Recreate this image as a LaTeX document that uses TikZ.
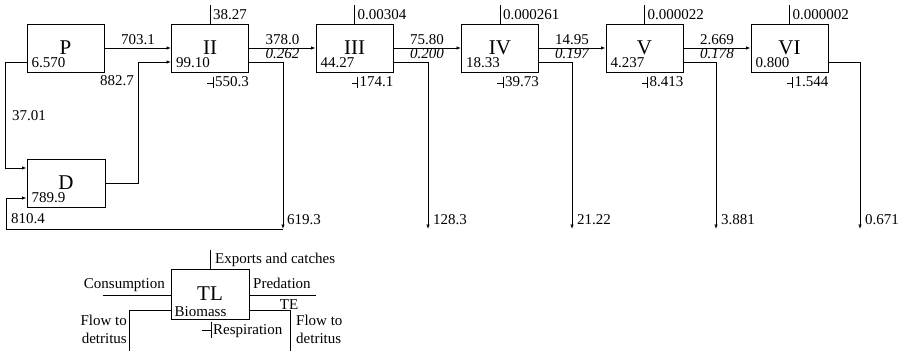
\documentclass[tikz,border=0pt]{standalone}
\usepackage{fontspec}
\setmainfont{Liberation Serif}
\usetikzlibrary{arrows.meta,calc}
\begin{document}
\begin{tikzpicture}[x=1pt,y=-1pt,
  box/.style={draw,line width=1pt,minimum width=77pt,minimum height=48pt,inner sep=0pt,font=\fontsize{21}{24}\selectfont},
  lbl/.style={inner sep=0pt,font=\fontsize{15}{18}\selectfont},
  itl/.style={inner sep=0pt,font=\fontsize{15}{18}\selectfont\itshape},
  conn/.style={line width=0.8pt},
  arr/.style={conn,-{Latex[length=4.5pt,width=3.5pt]}}]
\useasboundingbox (0,0) rectangle (904,351);
% boxes
\node[box] (P) at (65.5,48) {P};
\node[box] (II) at (210,48) {II};
\node[box] (III) at (354.5,48) {III};
\node[box] (IV) at (500,48) {IV};
\node[box] (V) at (644.5,48) {V};
\node[box] (VI) at (789.5,48) {VI};
\node[box,minimum width=78pt] (D) at (66,183) {D};
% biomass
\foreach \b/\v in {P/6.570,II/99.10,III/44.27,IV/18.33,V/4.237,VI/0.800,D/789.9}
  \node[lbl,anchor=base west] at ([xshift=5pt,yshift=5pt]\b.south west) {\v};
% exports
\foreach \b/\v in {II/38.27,III/0.00304,IV/0.000261,V/0.000022,VI/0.000002}{
  \draw[conn] (\b.north) -- ++(0,-19);
  \node[lbl,anchor=base west] at ([xshift=3pt,yshift=4pt]\b.north) {\v};
}
% respiration
\foreach \b/\v in {II/550.3,III/174.1,IV/39.73,V/8.413,VI/1.544}{
  \draw[conn] ([xshift=3pt,yshift=-4pt]\b.south) -- ++(0,11);
  \draw[conn] ([xshift=3pt,yshift=-11pt]\b.south) -- ++(-6,0);
  \node[lbl,anchor=base west] at ([xshift=5pt,yshift=-14pt]\b.south) {\v};
}
% predation flows
\draw[arr] (P) -- (II);
\draw[arr] (II) -- (III);
\draw[arr] (III) -- (IV);
\draw[arr] (IV) -- (V);
\draw[arr] (V) -- (VI);
\node[lbl,anchor=base] at (138,44) {703.1};
\foreach \x/\f/\t in {282.5/378.0/0.262,427/75.80/0.200,572/14.95/0.197,717/2.669/0.178}{
  \node[lbl,anchor=base] at (\x,44) {\f};
  \node[itl,anchor=base] at (\x,58) {\t};
}
% P to D
\draw[arr] ([yshift=-14pt]P.west) -- ++(-21,0) |- ([yshift=15pt]D.west);
\node[lbl,anchor=base west] at (12,120) {37.01};
% D to II
\draw[arr] (D.east) -| (138,62) -- ([yshift=-14pt]II.west);
\node[lbl,anchor=base east] at (134,85) {882.7};
% II to detritus
\coordinate (j) at (283,229);
\draw[arr] ([yshift=-14pt]II.east) -| (j);
\draw[arr] (j) -- (6,229) |- ([yshift=-15pt]D.west);
\node[lbl,anchor=base west] at (287,224) {619.3};
\node[lbl,anchor=base west] at (11,223) {810.4};
% other detritus flows
\foreach \b/\x/\v in {III/428/128.3,IV/572/21.22,V/716/3.881,VI/860/0.671}{
  \coordinate (e\b) at (\x,229);
  \draw[arr] ([yshift=-14pt]\b.east) -| (e\b);
  \node[lbl,anchor=base west] at (\x+5,224) {\v};
}
% legend
\node[box,minimum width=78pt,minimum height=50pt] (TL) at (210,294) {TL};
\coordinate (cons) at (103,295);
\coordinate (pred) at (316,295);
\draw[conn] (cons) -- (cons -| TL.west);
\draw[conn] (TL.east |- pred) -- (pred);
\draw[conn] (TL.north) -- ++(0,-19);
\node[lbl,anchor=base west] at (215,263) {Exports and catches};
\node[lbl,anchor=base east] at (165,288) {Consumption};
\node[lbl,anchor=base west] at (253,288) {Predation};
\node[lbl,anchor=base] at (289,309) {TE};
\node[lbl,anchor=base west] at ([xshift=4pt,yshift=3pt]TL.south west) {Biomass};
\coordinate (ld) at (129,351);
\coordinate (rd) at (290,351);
\draw[conn] ([yshift=-16pt]TL.west) -| (ld);
\draw[conn] ([yshift=-16pt]TL.east) -| (rd);
\draw[conn] ([xshift=1pt,yshift=-2pt]TL.south) -- ++(0,16);
\draw[conn] ([xshift=1pt,yshift=-11pt]TL.south) -- ++(-9,0);
\node[lbl,anchor=base west] at (213,334) {Respiration};
\node[lbl,anchor=base east] at (127,325) {Flow to};
\node[lbl,anchor=base east] at (127,343) {detritus};
\node[lbl,anchor=base west] at (296,325) {Flow to};
\node[lbl,anchor=base west] at (296,343) {detritus};
\end{tikzpicture}
\end{document}
